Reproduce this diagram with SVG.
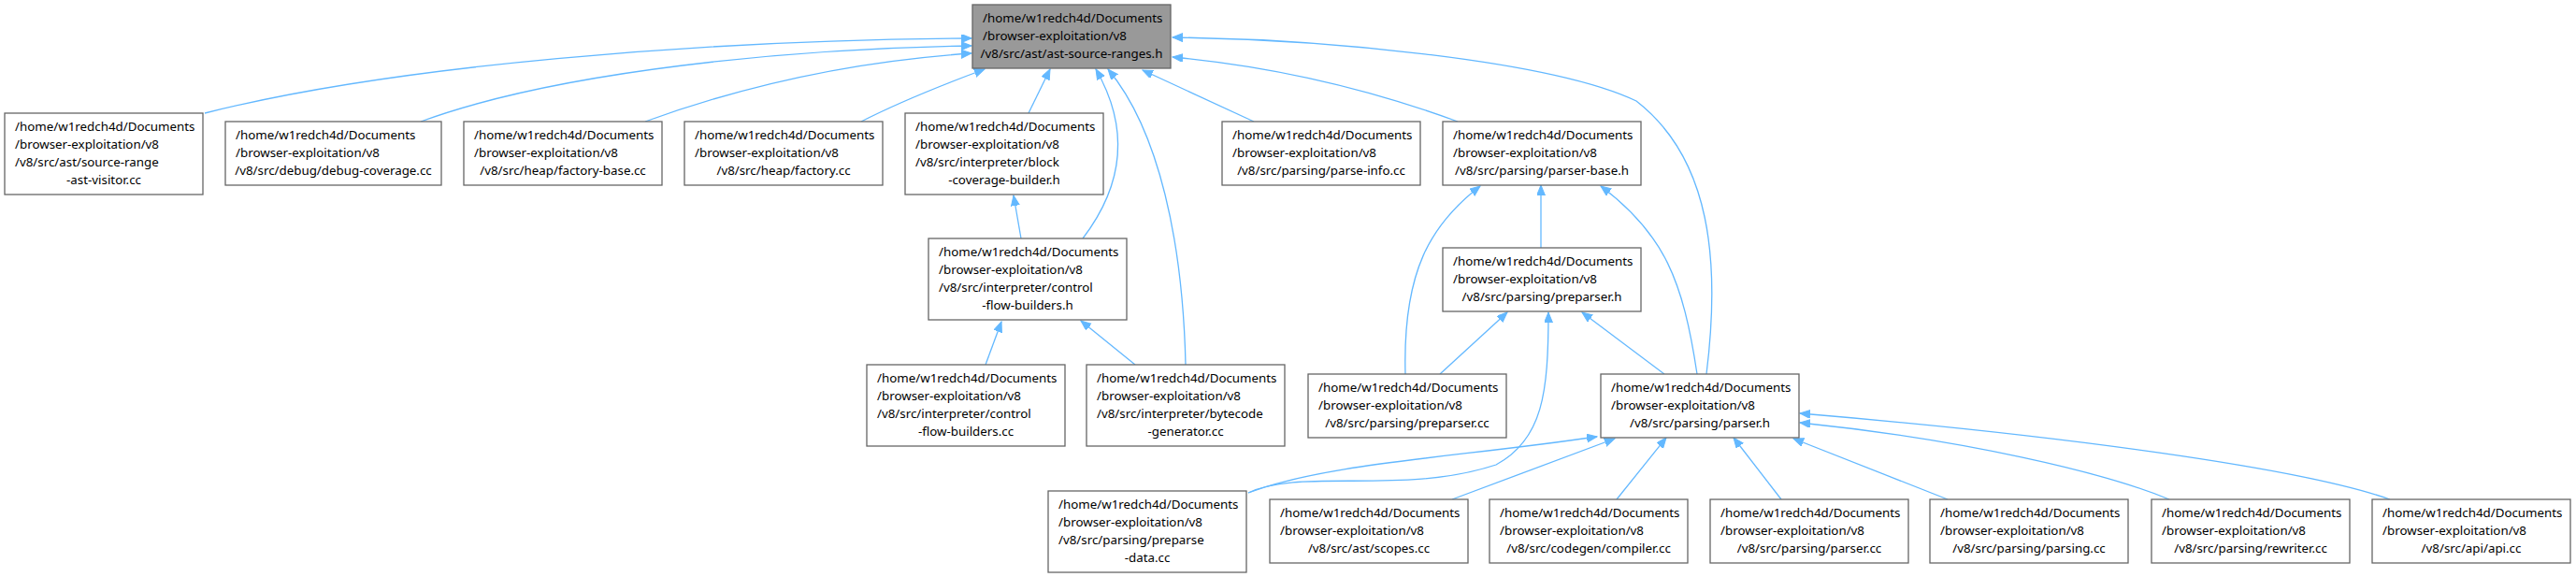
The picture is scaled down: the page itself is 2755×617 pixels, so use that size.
<svg xmlns="http://www.w3.org/2000/svg" width="2755" height="617" viewBox="0 0 2755 617">
<style>
  .box { fill: #ffffff; stroke: #666666; stroke-width: 1.3; }
  .main { fill: #999999; stroke: #666666; stroke-width: 1.3; }
  text { font-family: "Noto Sans", "Open Sans", "DejaVu Sans", sans-serif; font-size: 13.33px; fill: #000000; }
  .c { text-anchor: middle; }
  .e { fill: none; stroke: #63b8ff; stroke-width: 1.3; marker-end: url(#arr); }
</style>
<defs>
  <marker id="arr" markerUnits="userSpaceOnUse" markerWidth="12" markerHeight="10" refX="11" refY="4.5" orient="auto">
    <path d="M0,0 L11,4.5 L0,9 Z" fill="#63b8ff" stroke="#63b8ff" stroke-width="1"/>
  </marker>
</defs>
<rect width="2755" height="617" fill="#ffffff"/>

<g id="edges">
  <path class="e" d="M219,121 C420,70 750,43 1039,41"/>
  <path class="e" d="M450,130 C600,75 850,52 1039,49"/>
  <path class="e" d="M690,130 C800,90 920,65 1039,57"/>
  <path class="e" d="M921,130 C960,110 1010,90 1053,74"/>
  <path class="e" d="M1100,121 L1123,74"/>
  <path class="e" d="M1158,255 C1200,200 1210,140 1172,74"/>
  <path class="e" d="M1268,390 C1265,260 1240,140 1185,74"/>
  <path class="e" d="M1341,130 L1222,75"/>
  <path class="e" d="M1559,130 C1450,90 1350,70 1254,61"/>
  <path class="e" d="M1825,400 C1840,280 1830,170 1750,108 C1660,65 1420,42 1254,40"/>
  <path class="e" d="M1648,265 L1648,198"/>
  <path class="e" d="M1503,400 C1500,290 1530,240 1583,199"/>
  <path class="e" d="M1815,400 C1800,300 1780,250 1712,199"/>
  <path class="e" d="M1540,400 L1612,334"/>
  <path class="e" d="M1780,400 L1692,334"/>
  <path class="e" d="M1335,527 C1390,500 1500,530 1600,497 C1650,470 1656,420 1656,334"/>
  <path class="e" d="M1335,527 C1420,495 1550,490 1708,467"/>
  <path class="e" d="M1553,534 L1727,469"/>
  <path class="e" d="M1729,534 L1782,468"/>
  <path class="e" d="M1905,534 L1854,468"/>
  <path class="e" d="M2083,534 L1918,469"/>
  <path class="e" d="M2320,534 C2250,505 2100,470 1925,452"/>
  <path class="e" d="M2556,534 C2460,500 2200,465 1925,442"/>
  <path class="e" d="M1092,255 L1084,209"/>
  <path class="e" d="M1054,390 L1071,344"/>
  <path class="e" d="M1214,390 L1156,343"/>
</g>

<g id="n0">
  <rect class="main" x="1040" y="5" width="212" height="68"/>
  <text x="1051" y="24">/home/w1redch4d/Documents</text>
  <text x="1051" y="43">/browser-exploitation/v8</text>
  <text class="c" x="1146" y="62">/v8/src/ast/ast-source-ranges.h</text>
</g>
<g id="n1">
  <rect class="box" x="5" y="121" width="212" height="87"/>
  <text x="16" y="140">/home/w1redch4d/Documents</text>
  <text x="16" y="159">/browser-exploitation/v8</text>
  <text x="16" y="178">/v8/src/ast/source-range</text>
  <text class="c" x="111" y="197">-ast-visitor.cc</text>
</g>
<g id="n2">
  <rect class="box" x="241" y="130" width="231" height="68"/>
  <text x="252" y="149">/home/w1redch4d/Documents</text>
  <text x="252" y="168">/browser-exploitation/v8</text>
  <text class="c" x="356.5" y="187">/v8/src/debug/debug-coverage.cc</text>
</g>
<g id="n3">
  <rect class="box" x="496" y="130" width="212" height="68"/>
  <text x="507" y="149">/home/w1redch4d/Documents</text>
  <text x="507" y="168">/browser-exploitation/v8</text>
  <text class="c" x="602" y="187">/v8/src/heap/factory-base.cc</text>
</g>
<g id="n4">
  <rect class="box" x="732" y="130" width="212" height="68"/>
  <text x="743" y="149">/home/w1redch4d/Documents</text>
  <text x="743" y="168">/browser-exploitation/v8</text>
  <text class="c" x="838" y="187">/v8/src/heap/factory.cc</text>
</g>
<g id="n5">
  <rect class="box" x="968" y="121" width="212" height="87"/>
  <text x="979" y="140">/home/w1redch4d/Documents</text>
  <text x="979" y="159">/browser-exploitation/v8</text>
  <text x="979" y="178">/v8/src/interpreter/block</text>
  <text class="c" x="1074" y="197">-coverage-builder.h</text>
</g>
<g id="n6">
  <rect class="box" x="993" y="255" width="212" height="87"/>
  <text x="1004" y="274">/home/w1redch4d/Documents</text>
  <text x="1004" y="293">/browser-exploitation/v8</text>
  <text x="1004" y="312">/v8/src/interpreter/control</text>
  <text class="c" x="1099" y="331">-flow-builders.h</text>
</g>
<g id="n7">
  <rect class="box" x="927" y="390" width="212" height="87"/>
  <text x="938" y="409">/home/w1redch4d/Documents</text>
  <text x="938" y="428">/browser-exploitation/v8</text>
  <text x="938" y="447">/v8/src/interpreter/control</text>
  <text class="c" x="1033" y="466">-flow-builders.cc</text>
</g>
<g id="n8">
  <rect class="box" x="1162" y="390" width="212" height="87"/>
  <text x="1173" y="409">/home/w1redch4d/Documents</text>
  <text x="1173" y="428">/browser-exploitation/v8</text>
  <text x="1173" y="447">/v8/src/interpreter/bytecode</text>
  <text class="c" x="1268" y="466">-generator.cc</text>
</g>
<g id="n9">
  <rect class="box" x="1307" y="130" width="212" height="68"/>
  <text x="1318" y="149">/home/w1redch4d/Documents</text>
  <text x="1318" y="168">/browser-exploitation/v8</text>
  <text class="c" x="1413" y="187">/v8/src/parsing/parse-info.cc</text>
</g>
<g id="n10">
  <rect class="box" x="1543" y="130" width="212" height="68"/>
  <text x="1554" y="149">/home/w1redch4d/Documents</text>
  <text x="1554" y="168">/browser-exploitation/v8</text>
  <text class="c" x="1649" y="187">/v8/src/parsing/parser-base.h</text>
</g>
<g id="n11">
  <rect class="box" x="1543" y="265" width="212" height="68"/>
  <text x="1554" y="284">/home/w1redch4d/Documents</text>
  <text x="1554" y="303">/browser-exploitation/v8</text>
  <text class="c" x="1649" y="322">/v8/src/parsing/preparser.h</text>
</g>
<g id="n12">
  <rect class="box" x="1399" y="400" width="212" height="68"/>
  <text x="1410" y="419">/home/w1redch4d/Documents</text>
  <text x="1410" y="438">/browser-exploitation/v8</text>
  <text class="c" x="1505" y="457">/v8/src/parsing/preparser.cc</text>
</g>
<g id="n13">
  <rect class="box" x="1712" y="400" width="212" height="68"/>
  <text x="1723" y="419">/home/w1redch4d/Documents</text>
  <text x="1723" y="438">/browser-exploitation/v8</text>
  <text class="c" x="1818" y="457">/v8/src/parsing/parser.h</text>
</g>
<g id="n14">
  <rect class="box" x="1121" y="525" width="212" height="87"/>
  <text x="1132" y="544">/home/w1redch4d/Documents</text>
  <text x="1132" y="563">/browser-exploitation/v8</text>
  <text x="1132" y="582">/v8/src/parsing/preparse</text>
  <text class="c" x="1227" y="601">-data.cc</text>
</g>
<g id="n15">
  <rect class="box" x="1358" y="534" width="212" height="68"/>
  <text x="1369" y="553">/home/w1redch4d/Documents</text>
  <text x="1369" y="572">/browser-exploitation/v8</text>
  <text class="c" x="1464" y="591">/v8/src/ast/scopes.cc</text>
</g>
<g id="n16">
  <rect class="box" x="1593" y="534" width="212" height="68"/>
  <text x="1604" y="553">/home/w1redch4d/Documents</text>
  <text x="1604" y="572">/browser-exploitation/v8</text>
  <text class="c" x="1699" y="591">/v8/src/codegen/compiler.cc</text>
</g>
<g id="n17">
  <rect class="box" x="1829" y="534" width="212" height="68"/>
  <text x="1840" y="553">/home/w1redch4d/Documents</text>
  <text x="1840" y="572">/browser-exploitation/v8</text>
  <text class="c" x="1935" y="591">/v8/src/parsing/parser.cc</text>
</g>
<g id="n18">
  <rect class="box" x="2064" y="534" width="212" height="68"/>
  <text x="2075" y="553">/home/w1redch4d/Documents</text>
  <text x="2075" y="572">/browser-exploitation/v8</text>
  <text class="c" x="2170" y="591">/v8/src/parsing/parsing.cc</text>
</g>
<g id="n19">
  <rect class="box" x="2301" y="534" width="212" height="68"/>
  <text x="2312" y="553">/home/w1redch4d/Documents</text>
  <text x="2312" y="572">/browser-exploitation/v8</text>
  <text class="c" x="2407" y="591">/v8/src/parsing/rewriter.cc</text>
</g>
<g id="n20">
  <rect class="box" x="2537" y="534" width="212" height="68"/>
  <text x="2548" y="553">/home/w1redch4d/Documents</text>
  <text x="2548" y="572">/browser-exploitation/v8</text>
  <text class="c" x="2643" y="591">/v8/src/api/api.cc</text>
</g>
</svg>
